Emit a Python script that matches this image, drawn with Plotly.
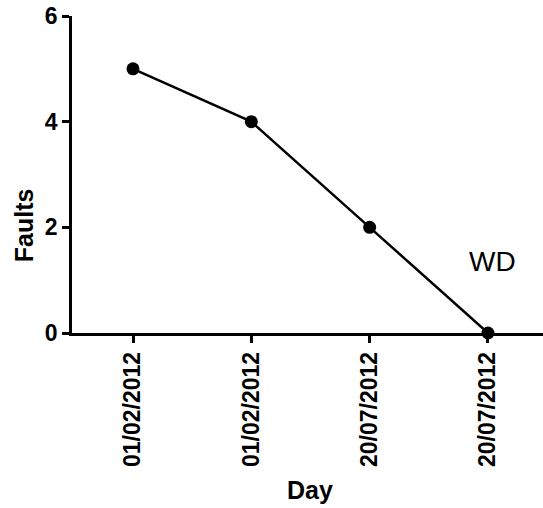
import plotly.graph_objects as go

day_labels = ["01/02/2012", "01/02/2012", "20/07/2012", "20/07/2012"]
day_index = [1, 2, 3, 4]
faults = [5, 4, 2, 0]
y_ticks = [0, 2, 4, 6]

FONT = "Liberation Sans, Arial"

fig = go.Figure()
fig.add_trace(go.Scatter(
    x=day_index, y=faults, mode="lines+markers",
    line=dict(color="black", width=2.5),
    marker=dict(color="black", size=13),
    cliponaxis=False, showlegend=False,
))

fig.add_annotation(x=4.04, y=1.36, text="WD", showarrow=False,
                   font=dict(family=FONT, size=28, color="black"))
fig.add_annotation(xref="paper", yref="paper", x=-0.102, y=0.34, text="<b>Faults</b>",
                   textangle=-90, showarrow=False, xanchor="center", yanchor="middle",
                   font=dict(family=FONT, size=25, color="black"))
fig.add_annotation(xref="paper", yref="paper", x=0.505, y=-0.495, text="<b>Day</b>",
                   showarrow=False, xanchor="center", yanchor="middle",
                   font=dict(family=FONT, size=25, color="black"))

fig.update_layout(
    width=543, height=508,
    margin=dict(l=72, r=0, t=16, b=175),
    paper_bgcolor="white", plot_bgcolor="white",
    font=dict(family=FONT, color="black"),
    xaxis=dict(
        range=[0.4845, 4.465], tickmode="array", tickvals=day_index, ticktext=day_labels,
        tickangle=-90, ticks="outside", ticklen=7, tickwidth=2.5, tickcolor="black",
        showline=True, linecolor="black", linewidth=2.5, showgrid=False, zeroline=False,
        tickfont=dict(size=23, family=FONT, weight="bold"),
    ),
    yaxis=dict(
        range=[0, 6], tickmode="array", tickvals=y_ticks,
        ticks="outside", ticklen=7, tickwidth=2.5, tickcolor="black",
        showline=True, linecolor="black", linewidth=2.5, showgrid=False, zeroline=False,
        tickfont=dict(size=23, family=FONT, weight="bold"),
    ),
)

fig.write_html("out.html", config={"displayModeBar": False},
               post_script="document.body.style.margin='0';")
